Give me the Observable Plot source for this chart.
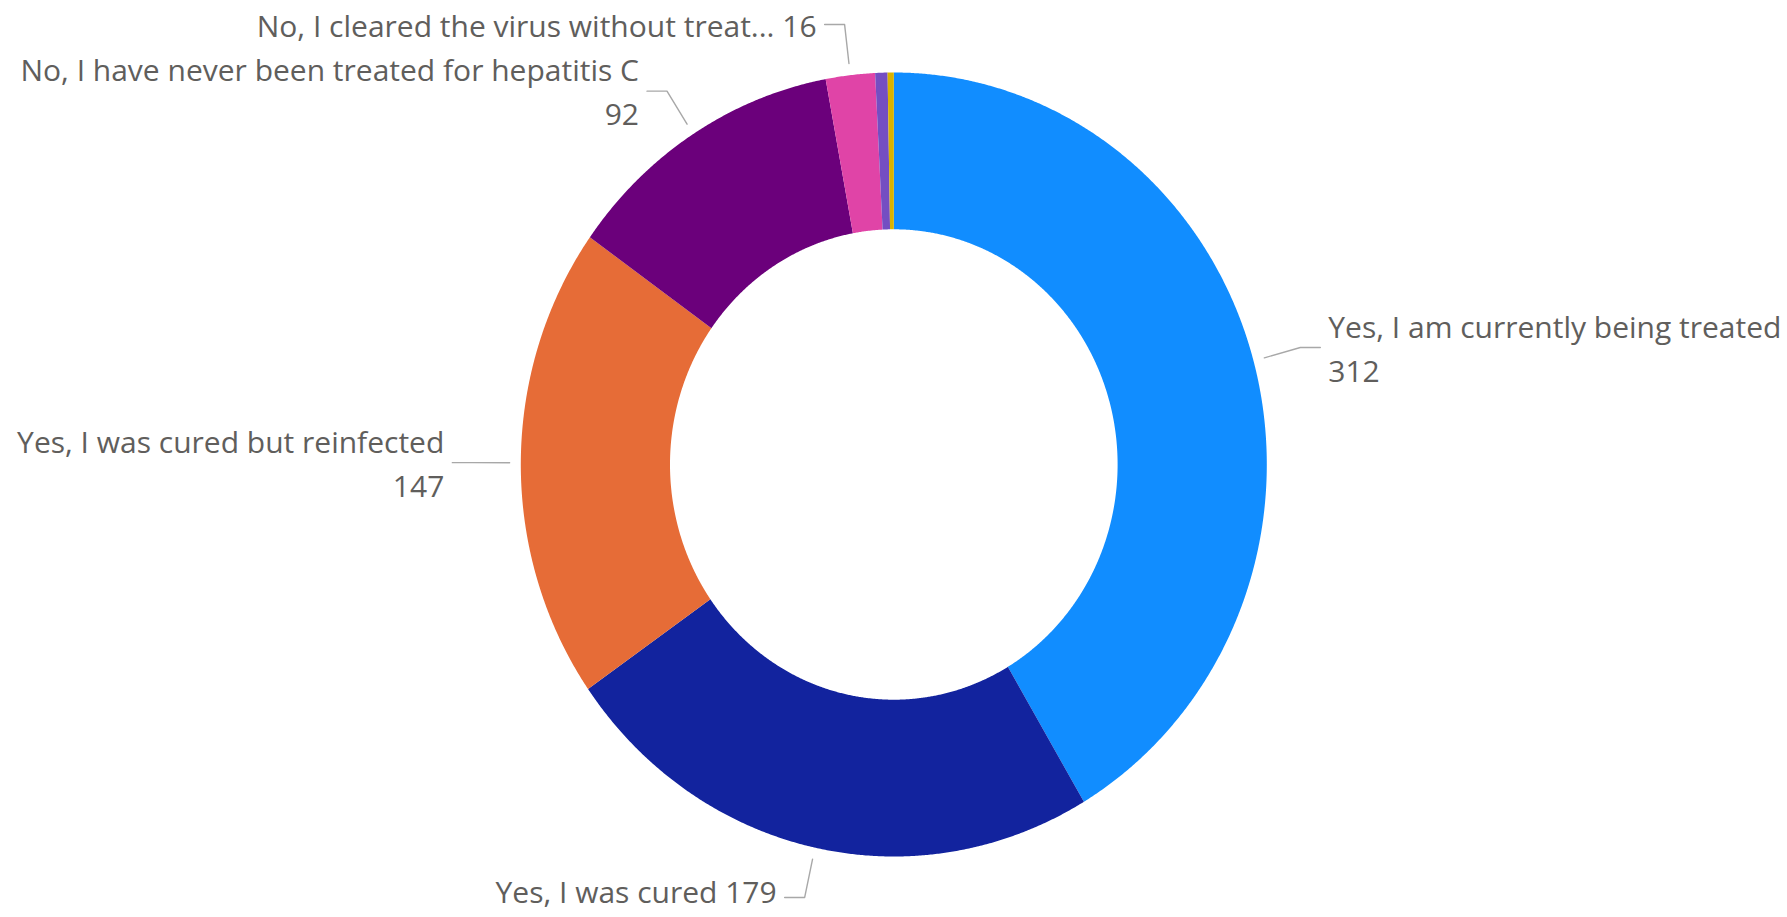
<!DOCTYPE html>
<html>
<head>
<meta charset="utf-8">
<script src="https://cdn.jsdelivr.net/npm/d3@7"></script>
<script src="https://cdn.jsdelivr.net/npm/@observablehq/plot@0.6"></script>
<style>
  html, body { margin: 0; padding: 0; background: #ffffff; }
  #chart svg { display: block; }
</style>
</head>
<body>
<div id="chart"></div>
<script>
// ---- Data ----
const categories = [
  "Yes, I am currently being treated",
  "Yes, I was cured",
  "Yes, I was cured but reinfected",
  "No, I have never been treated for hepatitis C",
  "No, I cleared the virus without treatment",
  "Don't know",
  "Prefer not to say"
];
const values = [312, 179, 147, 92, 16, 4, 2];
const colors = ["#118DFF", "#12239E", "#E66C37", "#6B007B", "#E044A7", "#744EC2", "#D9B300"];
// Label texts as shown (truncated where the original truncates); null = no label
const labelTexts = [
  "Yes, I am currently being treated",
  "Yes, I was cured",
  "Yes, I was cured but reinfected",
  "No, I have never been treated for hepatitis C",
  "No, I cleared the virus without treat...",
  null,
  null
];
// Whether the value sits on its own line under the name
const wrapValue = [true, false, true, true, false, false, false];

// ---- Layout constants ----
const W = 1787, H = 917;
const xRange = [520.3, 1266.3];   // donut horizontal extent
const yRange = [856, 72];         // donut vertical extent (y up)
const INNER = 0.6;
const pxX = (xRange[1] - xRange[0]) / 2;
const pxY = (yRange[0] - yRange[1]) / 2;
const yCenterPx = (yRange[0] + yRange[1]) / 2;
const R_START = 1.03, R_ELBOW = 1.13, SEG = 20, GAP = 8;
const MAX_LABEL_PX = H - 27;      // keep label text inside the frame

// ---- Derived geometry (from the data) ----
const total = d3.sum(values);
let cum = 0;
const slices = categories.map((c, i) => {
  const a0 = cum / total * 2 * Math.PI;
  cum += values[i];
  const a1 = cum / total * 2 * Math.PI;
  return {category: c, value: values[i], a0, a1, mid: (a0 + a1) / 2,
          label: labelTexts[i], wrap: wrapValue[i]};
});

const ring = slices.flatMap(s => {
  const n = Math.max(2, Math.ceil((s.a1 - s.a0) / (Math.PI / 720)));
  const pts = [];
  for (let k = 0; k <= n; k++) {
    const a = s.a0 + (s.a1 - s.a0) * k / n;
    pts.push({category: s.category, x: Math.sin(a), y: Math.cos(a)});
  }
  for (let k = n; k >= 0; k--) {
    const a = s.a0 + (s.a1 - s.a0) * k / n;
    pts.push({category: s.category, x: INNER * Math.sin(a), y: INNER * Math.cos(a)});
  }
  return pts;
});

const labeled = slices.filter(s => s.label);
const leaders = labeled.flatMap(s => {
  const side = Math.sin(s.mid) >= 0 ? 1 : -1;
  const ex = R_ELBOW * Math.sin(s.mid), ey = R_ELBOW * Math.cos(s.mid);
  return [
    {category: s.category, x: R_START * Math.sin(s.mid), y: R_START * Math.cos(s.mid)},
    {category: s.category, x: ex, y: ey},
    {category: s.category, x: ex + side * SEG / pxX, y: ey}
  ];
});
const minLabelY = (yCenterPx - MAX_LABEL_PX) / pxY;
const labels = labeled.map(s => {
  const side = Math.sin(s.mid) >= 0 ? 1 : -1;
  const ex = R_ELBOW * Math.sin(s.mid), ey = R_ELBOW * Math.cos(s.mid);
  return {
    side,
    x: ex + side * (SEG + GAP) / pxX,
    y: Math.max(ey, minLabelY),
    text: s.label + (s.wrap ? "\n" : " ") + s.value
  };
});

const textOpts = {
  x: "x", y: "y", text: "text",
  lineAnchor: "middle",
  dy: -2,
  fontSize: 30,
  lineHeight: 1.47,
  fill: "#605E5C",
  fontFamily: "'Open Sans', 'Segoe UI', sans-serif"
};

const chart = Plot.plot({
  width: W,
  height: H,
  margin: 0,
  x: {domain: [-1, 1], range: xRange, axis: null},
  y: {domain: [-1, 1], range: yRange, axis: null},
  color: {domain: categories, range: colors},
  style: {background: "#ffffff"},
  marks: [
    Plot.line(ring, {x: "x", y: "y", z: "category", fill: "category", stroke: "none", curve: "linear-closed"}),
    Plot.line(leaders, {x: "x", y: "y", z: "category", stroke: "#A8A8A8", strokeWidth: 1.4}),
    Plot.text(labels.filter(d => d.side > 0), {...textOpts, textAnchor: "start"}),
    Plot.text(labels.filter(d => d.side < 0), {...textOpts, textAnchor: "end"})
  ]
});
document.getElementById("chart").appendChild(chart);
</script>
</body>
</html>
